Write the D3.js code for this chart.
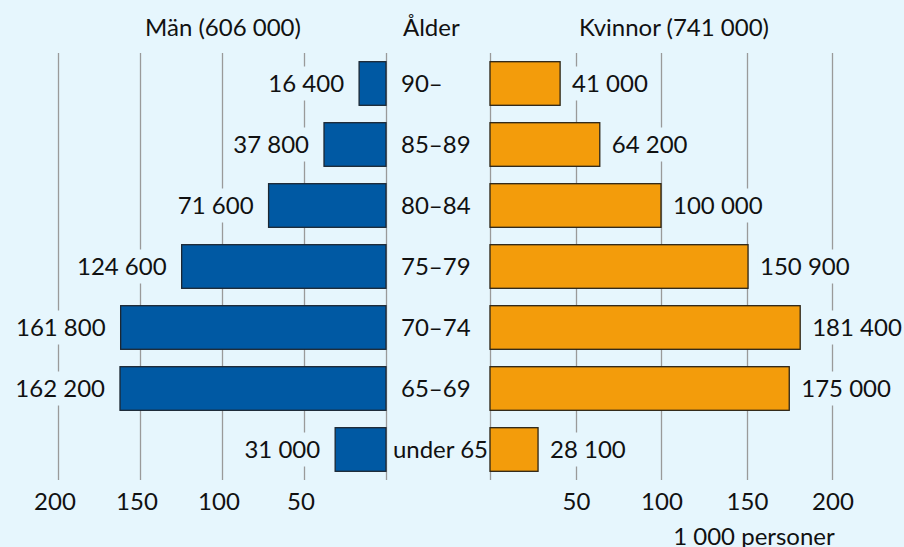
<!DOCTYPE html>
<html>
<head>
<meta charset="utf-8">
<script src="https://cdn.jsdelivr.net/npm/d3@7"></script>
<style>
  html, body { margin: 0; padding: 0; background: #e6f6fd; }
  svg { display: block; font-family: Lato, "Open Sans", sans-serif; }
</style>
</head>
<body>
<svg id="chart" width="904" height="547"></svg>
<script>
// age groups, top to bottom
const ages = ['90–', '85–89', '80–84', '75–79', '70–74', '65–69', 'under 65'];
const men = [16400, 37800, 71600, 124600, 161800, 162200, 31000];
const women = [41000, 64200, 100000, 150900, 181400, 175000, 28100];
const ticks = [50, 100, 150, 200];   // 1 000 personer
const titleMen = 'Män (606 000)';
const titleWomen = 'Kvinnor (741 000)';
const titleAge = 'Ålder';
const unitLabel = '1 000 personer';

const bg = '#e6f6fd';
const W = 904, H = 547;
const fmt = d3.formatLocale({decimal: ',', thousands: ' ', grouping: [3], currency: ['', ' kr']}).format(',d');

const svg = d3.select('#chart');
svg.append('rect').attr('width', W).attr('height', H).attr('fill', bg);

// scales (values in thousands)
const xMen = d3.scaleLinear().domain([0, 200]).range([386, 58]);
const xWomen = d3.scaleLinear().domain([0, 200]).range([490, 832]);
const y = d3.scaleBand().domain(ages).range([53, 480]).paddingInner(0.285).paddingOuter(0.1425);

const rows = ages.map((a, i) => ({age: a, m: men[i], w: women[i]}));

// gridlines
const grid = svg.append('g').attr('stroke', '#9a9a9a').attr('stroke-width', 1.3);
[0].concat(ticks).forEach(t => {
  grid.append('line').attr('x1', Math.round(xMen(t)) + 0.5).attr('x2', Math.round(xMen(t)) + 0.5)
    .attr('y1', 53).attr('y2', 480);
  grid.append('line').attr('x1', Math.round(xWomen(t)) + 0.5).attr('x2', Math.round(xWomen(t)) + 0.5)
    .attr('y1', 53).attr('y2', 480);
});

// bars
svg.append('g').selectAll('rect').data(rows).join('rect')
  .attr('x', d => xMen(d.m / 1000))
  .attr('y', d => y(d.age))
  .attr('width', d => xMen(0) - xMen(d.m / 1000))
  .attr('height', y.bandwidth())
  .attr('fill', '#0059a3')
  .attr('stroke', '#1b2733').attr('stroke-width', 1.3);

svg.append('g').selectAll('rect').data(rows).join('rect')
  .attr('x', xWomen(0))
  .attr('y', d => y(d.age))
  .attr('width', d => xWomen(d.w / 1000) - xWomen(0))
  .attr('height', y.bandwidth())
  .attr('fill', '#f39c0b')
  .attr('stroke', '#2b2416').attr('stroke-width', 1.3);

// value labels with background that cuts the gridlines
function valueLabel(g, x, yc, txt, anchor) {
  const box = g.append('rect').attr('fill', bg);
  const t = g.append('text').attr('x', x).attr('y', yc).attr('dy', '0.36em')
    .attr('text-anchor', anchor).attr('font-size', 24).attr('fill', '#111').text(txt);
  const bb = t.node().getBBox();
  box.attr('x', bb.x - 3).attr('y', yc - 17).attr('width', bb.width + 6).attr('height', 34);
}
const labels = svg.append('g');
rows.forEach(d => {
  const yc = y(d.age) + y.bandwidth() / 2;
  valueLabel(labels, xMen(d.m / 1000) - 15, yc, fmt(d.m), 'end');
  valueLabel(labels, xWomen(d.w / 1000) + 12, yc, fmt(d.w), 'start');
});

// age labels in the middle
svg.append('g').selectAll('text').data(rows).join('text')
  .attr('y', d => y(d.age) + y.bandwidth() / 2)
  .attr('dy', '0.36em')
  .attr('font-size', 24).attr('fill', '#111')
  .text(d => d.age)
  .attr('x', function() {
    const w = this.getComputedTextLength();
    return Math.min(401, xWomen(0) - 2 - w);
  });

// tick labels
const tl = svg.append('g').attr('font-size', 24).attr('fill', '#111').attr('text-anchor', 'middle');
ticks.forEach(t => {
  tl.append('text').attr('x', xMen(t) - 3).attr('y', 510).text(t);
  tl.append('text').attr('x', xWomen(t) + 1).attr('y', 510).text(t);
});

// titles
const tt = svg.append('g').attr('font-size', 24).attr('fill', '#111');
tt.append('text').attr('x', 223).attr('y', 36).attr('text-anchor', 'middle').text(titleMen);
tt.append('text').attr('x', 403).attr('y', 36).text(titleAge);
tt.append('text').attr('x', 674).attr('y', 36).attr('text-anchor', 'middle').text(titleWomen);
tt.append('text').attr('x', 754).attr('y', 545).attr('text-anchor', 'middle').text(unitLabel);
</script>
</body>
</html>
